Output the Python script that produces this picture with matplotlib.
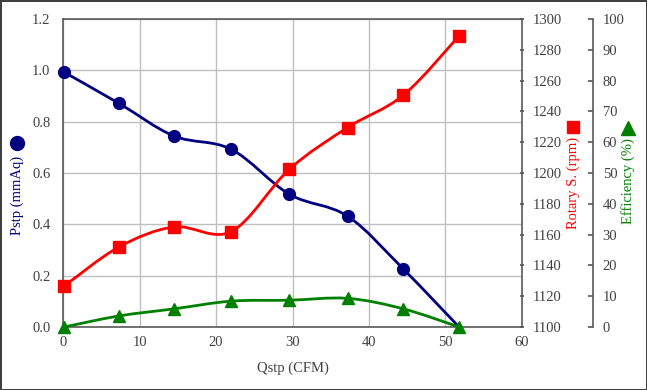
import matplotlib
matplotlib.use("Agg")
import matplotlib.pyplot as plt
from matplotlib.path import Path
from matplotlib.patches import PathPatch
from matplotlib.lines import Line2D
import numpy as np

plt.rcParams['font.family'] = ['Liberation Serif', 'DejaVu Serif']

# ---- data ----
q_cfm = [0.1, 7.3, 14.5, 22.0, 29.6, 37.2, 44.5, 51.8]
pstp = [0.993, 0.871, 0.744, 0.692, 0.517, 0.432, 0.226, 0.0]
rpm = [1126.5, 1152, 1165, 1162, 1202.5, 1229.5, 1250.5, 1289]
eff = [0.0, 3.6, 5.9, 8.4, 8.7, 9.3, 5.9, 0.0]

x_ticks = [0, 10, 20, 30, 40, 50, 60]
p_ticks = [0.0, 0.2, 0.4, 0.6, 0.8, 1.0, 1.2]
rpm_ticks = list(range(1100, 1301, 20))
eff_ticks = list(range(0, 101, 10))

NAVY = '#000080'
RED = '#ff0000'
GREEN = '#008000'
TXT = '#404040'
SPINE = '#595959'
GRID = '#bfbfbf'


def smooth_path(xs, ys, tension=1/6):
    xs = np.asarray(xs, float); ys = np.asarray(ys, float)
    pts = np.column_stack([xs, ys])
    n = len(pts)
    verts = [pts[0]]
    codes = [Path.MOVETO]
    for i in range(n - 1):
        p0 = pts[i - 1] if i > 0 else pts[i]
        p1 = pts[i]
        p2 = pts[i + 1]
        p3 = pts[i + 2] if i + 2 < n else pts[i + 1]
        c1 = p1 + (p2 - p0) * tension
        c2 = p2 - (p3 - p1) * tension
        verts += [c1, c2, p2]
        codes += [Path.CURVE4] * 3
    return Path(verts, codes)


fig = plt.figure(figsize=(6.47, 3.9), dpi=100)
fig.patch.set_facecolor('white')
fig.patch.set_edgecolor('#404040')
fig.patch.set_linewidth(2)

W, H = 647, 390
PX = 72 / 100  # points per pixel
left, right, top, bottom = 63.3, 521.7, 19, 327
ax = fig.add_axes([left / W, 1 - bottom / H, (right - left) / W, (bottom - top) / H])
ax2 = ax.twinx()
ax3 = ax.twinx()

# primary axis
ax.set_xlim(0, 60)
ax.set_ylim(0, 1.2)
ax.set_xticks(x_ticks)
ax.set_yticks(p_ticks)
ax.set_yticklabels([f"{v:.1f}" for v in p_ticks])
ax.grid(True, color=GRID, linewidth=1)
ax.set_axisbelow(True)
ax.tick_params(axis='both', length=0, labelsize=10.5, labelcolor=TXT)
ax.tick_params(axis='y', pad=13 * PX)
ax.tick_params(axis='x', pad=9 * PX)
for s in ax.spines.values():
    s.set_color(SPINE)
    s.set_linewidth(1.2)
ax.set_xlabel('Qstp (CFM)', fontsize=10.5, color=TXT, labelpad=9)

ax.add_patch(PathPatch(smooth_path(q_cfm, pstp), fill=False, edgecolor=NAVY, lw=2, zorder=3, capstyle='round'))
ax.plot(q_cfm[:-1], pstp[:-1], 'o', color=NAVY, ms=8.5, zorder=4, clip_on=False)

# rpm axis
ax2.set_ylim(1100, 1300)
ax2.set_yticks(rpm_ticks)
ax2.tick_params(axis='y', direction='inout', length=4 * PX, width=1.2, color=SPINE,
                labelsize=10.5, labelcolor=TXT, pad=9 * PX)
for s in ax2.spines.values():
    s.set_visible(False)
ax2.add_patch(PathPatch(smooth_path(q_cfm, rpm), fill=False, edgecolor=RED, lw=2, zorder=3))
ax2.plot(q_cfm, rpm, 's', color=RED, ms=8, zorder=4, clip_on=False)

# efficiency axis
ax3.set_ylim(0, 100)
ax3.set_yticks(eff_ticks)
ax3.spines['right'].set_position(('outward', 71 * PX))
for k, s in ax3.spines.items():
    s.set_visible(k == 'right')
ax3.spines['right'].set_color(SPINE)
ax3.spines['right'].set_linewidth(1.2)
ax3.tick_params(axis='y', direction='in', length=5 * PX, width=1.2, color=SPINE,
                labelsize=10.5, labelcolor=TXT, pad=10 * PX)
ax3.add_patch(PathPatch(smooth_path(q_cfm, eff), fill=False, edgecolor=GREEN, lw=2, zorder=3))
ax3.plot(q_cfm, eff, '^', color=GREEN, ms=8.5, zorder=4, clip_on=False)

# axis titles with symbol markers
fig.text(17 / W, 1 - 195 / H, 'Pstp (mmAq)', rotation=90, color=NAVY, fontsize=10.5, ha='center', va='center')
fig.text(573 / W, 1 - 183 / H, 'Rotary S. (rpm)', rotation=90, color=RED, fontsize=10.5, ha='center', va='center')
fig.text(628 / W, 1 - 181 / H, 'Efficiency (%)', rotation=90, color=GREEN, fontsize=10.5, ha='center', va='center')
fig.add_artist(Line2D([17 / W], [1 - 143 / H], marker='o', ms=10, color=NAVY, transform=fig.transFigure))
fig.add_artist(Line2D([573 / W], [1 - 127 / H], marker='s', ms=9, color=RED, transform=fig.transFigure))
fig.add_artist(Line2D([628 / W], [1 - 128 / H], marker='^', ms=10, color=GREEN, transform=fig.transFigure))

fig.savefig('out.png', dpi=100, facecolor=fig.get_facecolor(), edgecolor=fig.get_edgecolor())
